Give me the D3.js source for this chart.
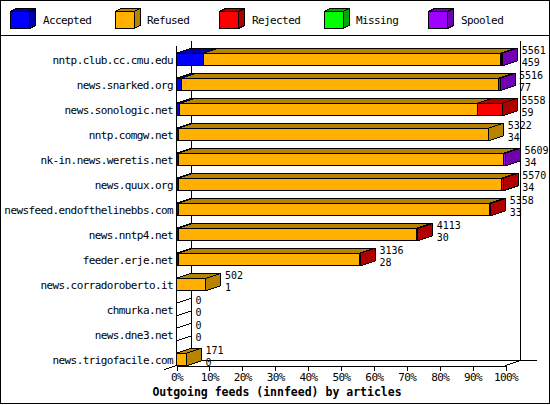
<!DOCTYPE html>
<html><head><meta charset="utf-8">
<script src="https://cdn.jsdelivr.net/npm/d3@7"></script>
<style>
html,body{margin:0;padding:0;background:#fff;}
svg{display:block;}
text{font-family:"DejaVu Sans Mono",monospace;fill:#000;}
</style></head>
<body>
<svg id="c" width="550" height="405"></svg>
<script>
// ---- data ----
const categories = ["nntp.club.cc.cmu.edu","news.snarked.org","news.sonologic.net","nntp.comgw.net",
  "nk-in.news.weretis.net","news.quux.org","newsfeed.endofthelinebbs.com","news.nntp4.net",
  "feeder.erje.net","news.corradoroberto.it","chmurka.net","news.dne3.net","news.trigofacile.com"];
const seriesNames = ["Accepted","Refused","Rejected","Missing","Spooled"];
const totals   = [5561,5516,5558,5322,5609,5570,5358,4113,3136,502,0,0,171];
const accepted = [459,77,59,34,34,34,33,30,28,1,0,0,0];
const refused  = [5062,5414,5069,5288,5545,5501,5300,4063,3088,501,0,0,171];
const rejected = [25,0,430,0,0,35,25,20,20,0,0,0,0];
const missing  = [0,0,0,0,0,0,0,0,0,0,0,0,0];
const spooled  = [15,25,0,0,30,0,0,0,0,0,0,0,0];
const tickValues = [0,10,20,30,40,50,60,70,80,90,100];
const titleText = "Outgoing feeds (innfeed) by articles";

const colors = ["#0000ff","#ffb000","#ff0000","#00ff00","#a000ff"];
const darks  = ["#0000a8","#b88400","#b00000","#00a800","#7000b0"];

const series = [accepted, refused, rejected, missing, spooled];

const svg = d3.select("#c");
const W = 550, H = 405;
const DX = 15, DY = 5;

// frame
svg.append("rect").attr("x",0.5).attr("y",0.5).attr("width",549).attr("height",403)
  .attr("fill","none").attr("stroke","#000").attr("shape-rendering","crispEdges");
svg.append("line").attr("x1",0).attr("x2",W).attr("y1",35.5).attr("y2",35.5)
  .attr("stroke","#000").attr("shape-rendering","crispEdges");

// legend
const leg = svg.append("g");
seriesNames.forEach((n,i)=>{
  const x = 10.5 + i*104.5, y = 11.5, w = 19, h = 17, dx = 6, dy = 3;
  const g = leg.append("g").attr("shape-rendering","crispEdges");
  g.append("path").attr("d",`M${x+w},${y}L${x+w+dx},${y-dy}L${x+w+dx},${y+h-dy}L${x+w},${y+h}Z`)
    .attr("fill",darks[i]).attr("stroke","#000");
  g.append("path").attr("d",`M${x},${y}L${x+dx},${y-dy}L${x+w+dx},${y-dy}L${x+w},${y}Z`)
    .attr("fill",darks[i]).attr("stroke","#000");
  g.append("rect").attr("x",x).attr("y",y).attr("width",w).attr("height",h)
    .attr("fill",colors[i]).attr("stroke","#000");
  leg.append("text").attr("x",Math.round(x+32)).attr("y",24).attr("font-size","11px")
    .attr("letter-spacing","-0.6px").text(n);
});

// scales
const x = d3.scaleLinear().domain([0,100]).range([176.5,505.5]);
const y = d3.scaleBand().domain(categories).range([47,372]).paddingInner(0.5).paddingOuter(0.25);
const bh = y.bandwidth();
const maxTotal = d3.max(totals);
const pct = v => v / maxTotal * 100;

const frontBottom = 365.5, frontTop = 45.5;
const backLeft = x(0)+DX, backRight = x(100)+DX;

// back wall / floor lines
const frame = svg.append("g").attr("stroke","#000").attr("shape-rendering","crispEdges").attr("fill","none");
frame.append("line").attr("x1",backLeft).attr("x2",backLeft).attr("y1",frontTop-DY).attr("y2",frontBottom-DY);
frame.append("line").attr("x1",backRight).attr("x2",backRight).attr("y1",frontTop-DY).attr("y2",frontBottom-DY);
frame.append("line").attr("x1",backLeft).attr("x2",backRight+16).attr("y1",frontBottom-DY).attr("y2",frontBottom-DY);
frame.append("line").attr("x1",x(0)-12).attr("y1",frontBottom+4).attr("x2",backLeft).attr("y2",frontBottom-DY);
frame.append("line").attr("x1",x(100)).attr("y1",frontBottom).attr("x2",backRight).attr("y2",frontBottom-DY);

// bars
const bars = svg.append("g").attr("stroke","#000").attr("shape-rendering","crispEdges");
categories.forEach((cat,r)=>{
  const y0 = y(cat), y1 = y0 + bh;
  let cum = 0;
  const segs = [];
  series.forEach((s,k)=>{ if (s[r] > 0) { segs.push({k, a:cum, b:cum+s[r]}); cum += s[r]; } });
  if (segs.length === 0) {
    const xa = x(0);
    bars.append("path").attr("fill","none")
      .attr("d",`M${xa},${y0}L${xa+DX},${y0-DY}L${xa+DX},${y1-DY}L${xa},${y1}Z`);
    return;
  }
  segs.forEach((sg,i)=>{
    const xa = x(pct(sg.a)), xb = x(pct(sg.b));
    bars.append("path").attr("fill",darks[sg.k])
      .attr("d",`M${xa},${y0}L${xa+DX},${y0-DY}L${xb+DX},${y0-DY}L${xb},${y0}Z`);
    bars.append("rect").attr("x",xa).attr("y",y0).attr("width",Math.max(0,xb-xa)).attr("height",bh)
      .attr("fill",colors[sg.k]);
    if (i === segs.length-1) {
      bars.append("path").attr("fill",darks[sg.k])
        .attr("d",`M${xb},${y0}L${xb+DX},${y0-DY}L${xb+DX},${y1-DY}L${xb},${y1}Z`);
    }
  });
});

// front left axis
svg.append("line").attr("x1",x(0)).attr("x2",x(0)).attr("y1",frontTop).attr("y2",frontBottom)
  .attr("stroke","#000").attr("shape-rendering","crispEdges");

// category labels
svg.append("g").selectAll("text").data(categories).join("text")
  .attr("x",173).attr("y",d=>y(d)+bh/2+4).attr("text-anchor","end")
  .attr("font-size","11px").attr("letter-spacing","-0.6px").text(d=>d);

// value labels
const vl = svg.append("g").attr("font-size","10px");
categories.forEach((cat,r)=>{
  const cx = x(pct(totals[r])) + DX + 4;
  const cy = y(cat) + bh/2;
  vl.append("text").attr("x",cx).attr("y",cy-6).text(totals[r]);
  vl.append("text").attr("x",cx).attr("y",cy+6).text(accepted[r]);
});

// x axis
const ax = svg.append("g").attr("transform",`translate(0,${frontBottom})`)
  .call(d3.axisBottom(x).tickValues(tickValues).tickFormat(d=>d+"%").tickSize(5).tickSizeOuter(0).tickPadding(3));
ax.selectAll("path,line").attr("stroke","#000").attr("shape-rendering","crispEdges");
ax.selectAll("text").attr("font-size","11px").attr("letter-spacing","-0.6px")
  .attr("font-family","DejaVu Sans Mono, monospace").attr("fill","#000");

// title
svg.append("text").attr("x",277).attr("y",396).attr("text-anchor","middle")
  .attr("font-size","11.5px").attr("font-weight","bold").text(titleText);
</script>
</body></html>
